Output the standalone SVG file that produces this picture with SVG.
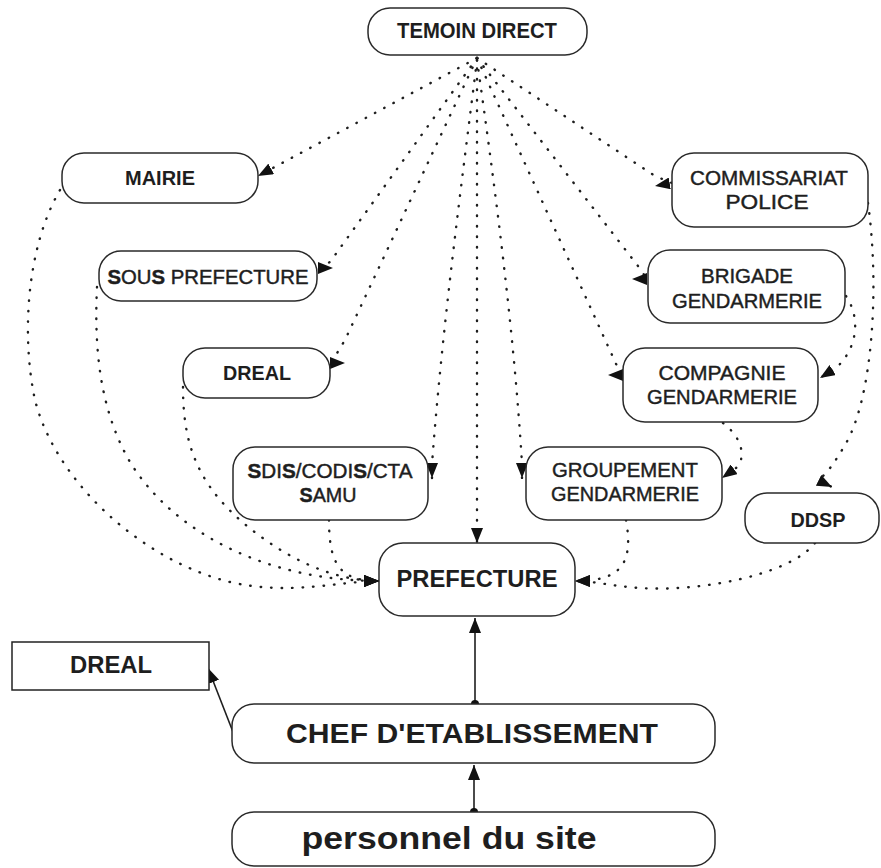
<svg xmlns="http://www.w3.org/2000/svg" width="881" height="868" viewBox="0 0 881 868">
<defs>
<style>
.box{fill:#fff;stroke:#2a2a2a;stroke-width:1.5}
.t{font-family:"Liberation Sans",Arial,sans-serif;font-size:21px;fill:#1e1e1e;text-anchor:middle}
.m{stroke:#1e1e1e;stroke-width:0.45}
.b{font-weight:bold}
.dot{fill:none;stroke:#1e1e1e;stroke-width:2.4;stroke-dasharray:0.5 10;stroke-linecap:round}
.sol{fill:none;stroke:#1e1e1e;stroke-width:1.6}
</style>
<marker id="ah" viewBox="0 0 15 12" refX="15" refY="6" markerWidth="15" markerHeight="12" markerUnits="userSpaceOnUse" orient="auto"><path d="M0,0 L15,6 L0,12 z" fill="#111"/></marker>
</defs>
<rect width="881" height="868" fill="#fff"/>

<g id="connectors">
  <path class="dot" d="M477,58 L258,176" marker-end="url(#ah)"/>
  <path class="dot" d="M477,58 L330,262 L318,268 L333,268" marker-end="url(#ah)"/>
  <path class="dot" d="M477,58 L345,340 L331,363 L345,363" marker-end="url(#ah)"/>
  <path class="dot" d="M477,60 C462,180 442,330 432,464 L432,478" marker-end="url(#ah)"/>
  <path class="dot" d="M477,58 L477,543" marker-end="url(#ah)"/>
  <path class="dot" d="M477,60 C494,180 514,330 522,464 L522,478" marker-end="url(#ah)"/>
  <path class="dot" d="M477,58 L617,366 L623,375 L608,375" marker-end="url(#ah)"/>
  <path class="dot" d="M477,58 L638,266 L647,279 L632,279" marker-end="url(#ah)"/>
  <path class="dot" d="M477,58 L655,176 L672,183 L655,186" marker-end="url(#ah)"/>

  <path class="dot" d="M60,190 C25,250 22,340 35,400 C55,480 140,560 230,582 C290,596 340,581 379,581" marker-end="url(#ah)"/>
  <path class="dot" d="M97,287 C94,350 100,410 130,462 C175,535 270,581 379,581" marker-end="url(#ah)"/>
  <path class="dot" d="M183,387 C183,440 195,480 240,520 C280,555 330,581 379,581" marker-end="url(#ah)"/>
  <path class="dot" d="M329,520 C329,565 340,581 379,581" marker-end="url(#ah)"/>

  <path class="dot" d="M626,520 C634,565 620,581 575,581" marker-end="url(#ah)"/>
  <path class="dot" d="M815,543 C790,575 700,592 640,588 C610,586 595,581 575,581" marker-end="url(#ah)"/>

  <path class="dot" d="M868,203 C880,290 872,400 845,445 C835,462 826,475 818,480 L832,487" marker-end="url(#ah)"/>
  <path class="dot" d="M846,296 C862,320 856,350 836,368 L820,378" marker-end="url(#ah)"/>
  <path class="dot" d="M723,423 C745,440 745,460 736,468 L722,478" marker-end="url(#ah)"/>

  <path class="sol" d="M475,704 L475,618" marker-end="url(#ah)"/>
  <circle cx="475" cy="704" r="4" fill="#111"/>
  <path class="sol" d="M474,812 L474,765" marker-end="url(#ah)"/>
  <circle cx="474" cy="812" r="4" fill="#111"/>
  <path class="sol" d="M233,732 L208,668" marker-end="url(#ah)"/>
</g>

<g id="temoin"><rect class="box" x="368" y="8" width="219" height="47" rx="22"/><text class="t b" x="477" y="38" style="font-size:22px" textLength="160" lengthAdjust="spacingAndGlyphs">TEMOIN DIRECT</text></g>
<g id="mairie"><rect class="box" x="62" y="153" width="196" height="50" rx="22"/><text class="t b" x="160" y="185" textLength="70" lengthAdjust="spacingAndGlyphs">MAIRIE</text></g>
<g id="sous-prefecture"><rect class="box" x="99" y="251" width="218" height="50" rx="22"/><text class="t m" x="208" y="284" textLength="201" lengthAdjust="spacingAndGlyphs"><tspan class="b">S</tspan>OU<tspan class="b">S</tspan> PREFECTURE</text></g>
<g id="dreal-1"><rect class="box" x="183" y="348" width="147" height="50" rx="22"/><text class="t b" x="257" y="380" textLength="68" lengthAdjust="spacingAndGlyphs">DREAL</text></g>
<g id="sdis"><rect class="box" x="233" y="447" width="195" height="73" rx="22"/><text class="t m" x="330" y="478" textLength="165" lengthAdjust="spacingAndGlyphs"><tspan class="b">S</tspan>DI<tspan class="b">S</tspan>/CODI<tspan class="b">S</tspan>/CTA</text><text class="t m" x="328" y="502" textLength="57" lengthAdjust="spacingAndGlyphs"><tspan class="b">S</tspan>AMU</text></g>
<g id="prefecture"><rect class="box" x="379" y="543" width="196" height="73" rx="24"/><text class="t b" x="477" y="587" style="font-size:24px" textLength="161" lengthAdjust="spacingAndGlyphs">PREFECTURE</text></g>
<g id="groupement"><rect class="box" x="526" y="447" width="196" height="73" rx="22"/><text class="t m" x="625" y="477" textLength="146" lengthAdjust="spacingAndGlyphs">GROUPEMENT</text><text class="t m" x="625" y="501" textLength="148" lengthAdjust="spacingAndGlyphs">GENDARMERIE</text></g>
<g id="compagnie"><rect class="box" x="623" y="348" width="195" height="74" rx="22"/><text class="t m" x="722" y="380" textLength="127" lengthAdjust="spacingAndGlyphs">COMPAGNIE</text><text class="t m" x="722" y="404" textLength="150" lengthAdjust="spacingAndGlyphs">GENDARMERIE</text></g>
<g id="brigade"><rect class="box" x="648" y="250" width="197" height="73" rx="22"/><text class="t m" x="747" y="283" textLength="92" lengthAdjust="spacingAndGlyphs">BRIGADE</text><text class="t m" x="747" y="308" textLength="150" lengthAdjust="spacingAndGlyphs">GENDARMERIE</text></g>
<g id="commissariat"><rect class="box" x="672" y="153" width="196" height="74" rx="22"/><text class="t m" x="769" y="185" textLength="158" lengthAdjust="spacingAndGlyphs">COMMISSARIAT</text><text class="t m" x="767" y="209" textLength="83" lengthAdjust="spacingAndGlyphs">POLICE</text></g>
<g id="ddsp"><rect class="box" x="745" y="493" width="134" height="50" rx="22"/><text class="t b" x="818" y="527" textLength="55" lengthAdjust="spacingAndGlyphs">DDSP</text></g>
<g id="dreal-2"><rect class="box" x="12" y="642" width="197" height="48" style="stroke:#222"/><text class="t b" x="111" y="673" style="font-size:24px" textLength="82" lengthAdjust="spacingAndGlyphs">DREAL</text></g>
<g id="chef"><rect class="box" x="232" y="704" width="483" height="59" rx="22"/><text class="t b" x="472" y="743" style="font-size:28px" textLength="372" lengthAdjust="spacingAndGlyphs">CHEF D'ETABLISSEMENT</text></g>
<g id="personnel"><rect class="box" x="232" y="812" width="483" height="54" rx="22"/><text class="t b" x="449" y="849" style="font-size:31px" textLength="295" lengthAdjust="spacingAndGlyphs">personnel du site</text></g>
</svg>
